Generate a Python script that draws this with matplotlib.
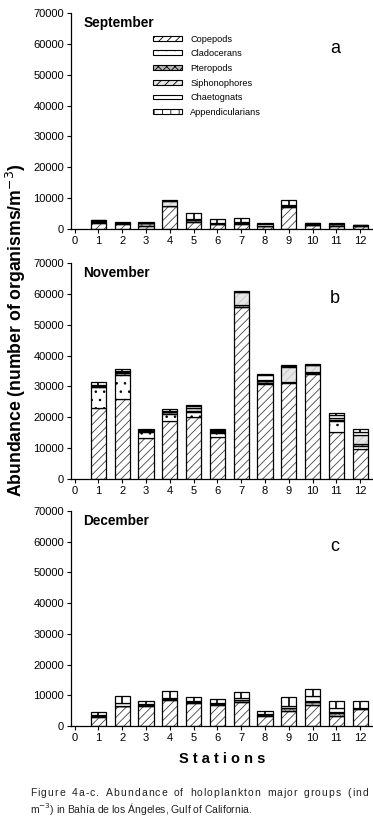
import matplotlib.pyplot as plt
import numpy as np
from matplotlib.patches import Patch

stations = list(range(1, 13))
groups = ['Copepods', 'Cladocerans', 'Pteropods', 'Siphonophores', 'Chaetognats', 'Appendicularians']
months = ['September', 'November', 'December']
letters = ['a', 'b', 'c']

# September (organisms/m3), stacked bottom -> top in the order of groups
sep_cop = [1700, 1500, 800, 7300, 2300, 1600, 1600, 1000, 7200, 1200, 900, 800]
sep_clad = [100, 0, 0, 0, 0, 0, 0, 0, 0, 0, 0, 0]
sep_pter = [500, 400, 900, 0, 600, 0, 300, 0, 200, 0, 600, 0]
sep_siph = [200, 0, 0, 1800, 0, 200, 0, 0, 0, 400, 0, 300]
sep_chae = [200, 100, 200, 0, 200, 200, 200, 400, 200, 100, 0, 100]
sep_app = [200, 200, 200, 200, 1900, 1000, 1400, 400, 1800, 0, 200, 0]

# November
nov_cop = [23000, 26000, 13300, 18600, 20000, 13600, 55800, 30800, 31000, 34000, 15300, 9800]
nov_clad = [6900, 7700, 2000, 2300, 1600, 1200, 0, 300, 500, 200, 3300, 700]
nov_pter = [0, 500, 200, 900, 300, 300, 600, 700, 0, 600, 500, 800]
nov_siph = [200, 400, 0, 0, 1000, 300, 4300, 200, 4800, 2200, 500, 2800]
nov_chae = [200, 300, 200, 300, 800, 300, 0, 1800, 200, 0, 1100, 1000]
nov_app = [1100, 800, 500, 700, 300, 500, 300, 200, 300, 200, 700, 900]

# December
dec_cop = [3000, 6400, 6500, 8600, 7600, 7000, 7900, 3400, 5000, 7000, 3300, 5400]
dec_clad = [0, 0, 0, 0, 0, 0, 0, 0, 0, 0, 0, 0]
dec_pter = [200, 0, 300, 200, 200, 200, 500, 200, 700, 900, 800, 600]
dec_siph = [0, 0, 0, 0, 0, 0, 0, 0, 300, 300, 400, 0]
dec_chae = [300, 1000, 300, 300, 300, 300, 600, 300, 600, 1500, 1400, 0]
dec_app = [1200, 2300, 1100, 2200, 1400, 1200, 2100, 1000, 2700, 2200, 2100, 2200]

sep = [sep_cop, sep_clad, sep_pter, sep_siph, sep_chae, sep_app]
nov = [nov_cop, nov_clad, nov_pter, nov_siph, nov_chae, nov_app]
dec = [dec_cop, dec_clad, dec_pter, dec_siph, dec_chae, dec_app]

caption1 = 'Figure 4a-c. Abundance of holoplankton major groups (ind'
caption2 = 'm$^{-3}$) in Bahía de los Ángeles, Gulf of California.'

# fill, hatch, hatch colour for each group
styles = {
    'Copepods': ('white', '////', '#444444'),
    'Cladocerans': ('white', '..', 'black'),
    'Pteropods': ('#b4b4b4', 'xxxx', '#666666'),
    'Siphonophores': ('#e6e6e6', '////', '#c4c4c4'),
    'Chaetognats': ('white', '', 'black'),
    'Appendicularians': ('white', '', 'black'),
}

plt.rcParams['font.family'] = ['Liberation Sans', 'DejaVu Sans']
plt.rcParams['hatch.linewidth'] = 0.6

W, H = 373, 818
fig = plt.figure(figsize=(W / 100, H / 100), dpi=100)

# axes boxes in pixels: left, top, right, bottom
boxes = [(71, 13.3, 373, 228.7), (71, 263.3, 373, 478.7), (71, 511, 373, 726)]
width = 0.64

for data, month, letter, (l, t, r, b) in zip([sep, nov, dec], months, letters, boxes):
    ax = fig.add_axes([l / W, 1 - b / H, (r - l) / W, (b - t) / H])
    bottom = np.zeros(len(stations))
    for g, vals in zip(groups, data):
        vals = np.array(vals, dtype=float)
        face, hatch, hcol = styles[g]
        ax.bar(stations, vals, width, bottom=bottom, color=face, hatch=hatch,
               edgecolor=hcol, linewidth=0)
        ax.bar(stations, vals, width, bottom=bottom, fill=False,
               edgecolor='black', linewidth=0.9)
        if g == 'Appendicularians':
            m = vals > 0
            ax.vlines(np.array(stations)[m], bottom[m], (bottom + vals)[m],
                      color='black', linewidth=1.2)
        bottom += vals

    ax.set_xlim(-0.15, 12.54)
    ax.set_ylim(0, 70000)
    ax.set_xticks(range(0, 13))
    ax.set_yticks(range(0, 70001, 10000))
    for side in ['top', 'right']:
        ax.spines[side].set_visible(False)
    for side in ['left', 'bottom']:
        ax.spines[side].set_linewidth(0.9)
    ax.tick_params(direction='out', length=3, width=0.8, labelsize=8, pad=2)

    ax.text(0.36, 66850, month, fontsize=9.8, fontweight='bold', ha='left', va='center')
    ax.text(10.95, 58500, letter, fontsize=13, ha='center', va='center')

    if letter == 'a':
        handles = []
        for g in groups:
            face, hatch, hcol = styles[g]
            if g == 'Appendicularians':
                hatch = '||'
            handles.append(Patch(facecolor=face, hatch=hatch, edgecolor='black', linewidth=0.8))
        fig.legend(handles, groups, loc='upper left',
                   bbox_to_anchor=(152.7 / W, 1 - 34.5 / H), bbox_transform=fig.transFigure,
                   frameon=False, fontsize=6.6, borderpad=0, borderaxespad=0,
                   handlelength=3.2, handleheight=0.45, handletextpad=0.9,
                   labelspacing=0.62)

fig.text(16 / W, 1 - 330 / H, 'Abundance (number of organisms/m$^{-3}$)',
         rotation=90, fontsize=12.7, fontweight='bold', ha='center', va='center')
fig.text(222.5 / W, 1 - 759.3 / H, 'S t a t i o n s', fontsize=10.5,
         fontweight='bold', ha='center', va='center')

# caption: first line letter-spaced to the right edge, second line flush left
cap_font = ['Liberation Sans Narrow', 'Liberation Sans', 'DejaVu Sans']
cap_kw = dict(fontsize=7.5, family=cap_font, color='#222222', va='center')
renderer = fig.canvas.get_renderer()
space_w = fig.text(0, 0, 'a a', **cap_kw).get_window_extent(renderer).width - \
    fig.text(0, 0, 'aa', **cap_kw).get_window_extent(renderer).width
for tx in fig.texts[-2:]:
    tx.remove()
chars = list(caption1)
char_texts, widths = [], []
for c in chars:
    if c == ' ':
        char_texts.append(None)
        widths.append(space_w)
    else:
        tx = fig.text(0, 1 - 793.3 / H, c, ha='left', **cap_kw)
        char_texts.append(tx)
        widths.append(tx.get_window_extent(renderer).width)
x0, x1 = 30, 368
weights = [2.5 if c == ' ' else 1.0 for c in chars[1:]]
extra = (x1 - x0 - sum(widths)) / sum(weights)
x = x0
for i, (tx, w) in enumerate(zip(char_texts, widths)):
    if tx is not None:
        tx.set_x(x / W)
    if i < len(weights):
        x += w + extra * weights[i]
fig.text(30 / W, 1 - 808.7 / H, caption2, ha='left', **cap_kw)

fig.savefig('out.png', dpi=100)
